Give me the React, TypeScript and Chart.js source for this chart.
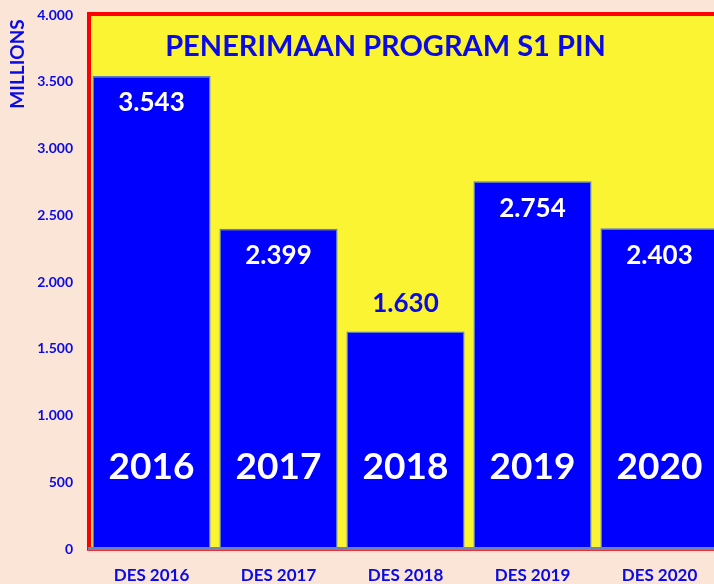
import React, { useEffect, useRef } from "react";
import { Chart, registerables } from "chart.js";

Chart.register(...registerables);

const categories = ["DES 2016", "DES 2017", "DES 2018", "DES 2019", "DES 2020"];
const years = ["2016", "2017", "2018", "2019", "2020"];
const values = [3543, 2399, 1630, 2754, 2403];
const valueLabels = ["3.543", "2.399", "1.630", "2.754", "2.403"];
const labelOutside = [false, false, true, false, false];
const title = "PENERIMAAN PROGRAM S1 PIN";
const axisTitle = "MILLIONS";

const FONT = "Lato, 'Open Sans', sans-serif";
const BLUE_TEXT = "#0A0AE6";
const CANVAS_W = 730;
const CANVAS_H = 584;

const fmt = (v: number) => v.toLocaleString("de-DE");

const decor = {
  id: "decor",
  beforeDatasetsDraw(chart: any) {
    const { ctx, chartArea } = chart;
    const { left, right, top, bottom } = chartArea;
    ctx.save();
    ctx.fillStyle = "#FAF432";
    ctx.fillRect(left, top, right - left, bottom - top);
    ctx.restore();
  },
  afterDatasetsDraw(chart: any) {
    const { ctx, chartArea } = chart;
    const { left, right, top, bottom } = chartArea;
    const meta = chart.getDatasetMeta(0);
    ctx.save();
    // red frame
    ctx.fillStyle = "#FF0000";
    ctx.fillRect(left - 1, top - 3, 4, bottom - top + 5);
    ctx.fillRect(left - 1, top - 3, right - left + 10, 4);
    // axis line
    ctx.fillStyle = "#6784C2";
    ctx.fillRect(left, bottom - 2, right - left + 10, 3);
    ctx.fillStyle = "#F03030";
    ctx.fillRect(left - 1, bottom + 1, right - left + 10, 1);

    ctx.textAlign = "center";
    ctx.textBaseline = "middle";
    meta.data.forEach((bar: any, i: number) => {
      ctx.font = `bold 26px ${FONT}`;
      if (labelOutside[i]) {
        ctx.fillStyle = BLUE_TEXT;
        ctx.fillText(valueLabels[i], bar.x, bar.y - 28);
      } else {
        ctx.fillStyle = "#FFFFFF";
        ctx.fillText(valueLabels[i], bar.x, bar.y + 27);
      }
      ctx.font = `bold 37px ${FONT}`;
      ctx.fillStyle = "#FFFFFF";
      ctx.fillText(years[i], bar.x, bottom - 82);
    });

    // title
    ctx.font = `bold 29px ${FONT}`;
    ctx.fillStyle = BLUE_TEXT;
    ctx.fillText(title, (left + right) / 2 - 20, top + 32);
    ctx.restore();
  },
  afterDraw(chart: any) {
    const { ctx } = chart;
    ctx.save();
    ctx.translate(18, 64);
    ctx.rotate(-Math.PI / 2);
    ctx.font = `bold 19px ${FONT}`;
    ctx.fillStyle = BLUE_TEXT;
    ctx.textAlign = "center";
    ctx.textBaseline = "middle";
    ctx.fillText(axisTitle, 0, 0);
    ctx.restore();
  },
};

export default function App() {
  const ref = useRef<HTMLCanvasElement>(null);
  useEffect(() => {
    if (!ref.current) return;
    const chart = new Chart(ref.current, {
      type: "bar",
      data: {
        labels: categories,
        datasets: [
          {
            data: values,
            backgroundColor: "#0000FF",
            borderColor: "#5A7CC4",
            borderWidth: 1.5,
            categoryPercentage: 1,
            barPercentage: 0.93,
          },
        ],
      },
      options: {
        responsive: false,
        animation: false,
        devicePixelRatio: 1,
        layout: { padding: { top: 15, right: CANVAS_W - 723, left: 0, bottom: 0 } },
        plugins: { legend: { display: false }, tooltip: { enabled: false }, title: { display: false } },
        scales: {
          x: {
            grid: { display: false, drawTicks: false },
            border: { display: false },
            ticks: { color: BLUE_TEXT, font: { family: FONT, size: 17, weight: "bold" }, padding: 16 },
            afterFit: (s: any) => { s.height = 35; s.paddingLeft = 0; s.paddingRight = 0; },
          },
          y: {
            min: 0,
            max: 4000,
            grid: { display: false, drawTicks: false },
            border: { display: false },
            ticks: {
              stepSize: 500,
              color: BLUE_TEXT,
              padding: 15,
              font: { family: FONT, size: 14, weight: "bold" },
              callback: (v: any) => fmt(Number(v)),
            },
            afterFit: (s: any) => { s.width = 88; s.paddingTop = 0; s.paddingBottom = 0; },
          },
        },
      },
      plugins: [decor],
    } as any);
    return () => chart.destroy();
  }, []);
  return (
    <div style={{ position: "absolute", left: 0, top: 0, width: 714, height: 584, overflow: "hidden", background: "#FBE5D6" }}>
      <canvas ref={ref} width={CANVAS_W} height={CANVAS_H} style={{ display: "block", width: CANVAS_W, height: CANVAS_H }} />
    </div>
  );
}
